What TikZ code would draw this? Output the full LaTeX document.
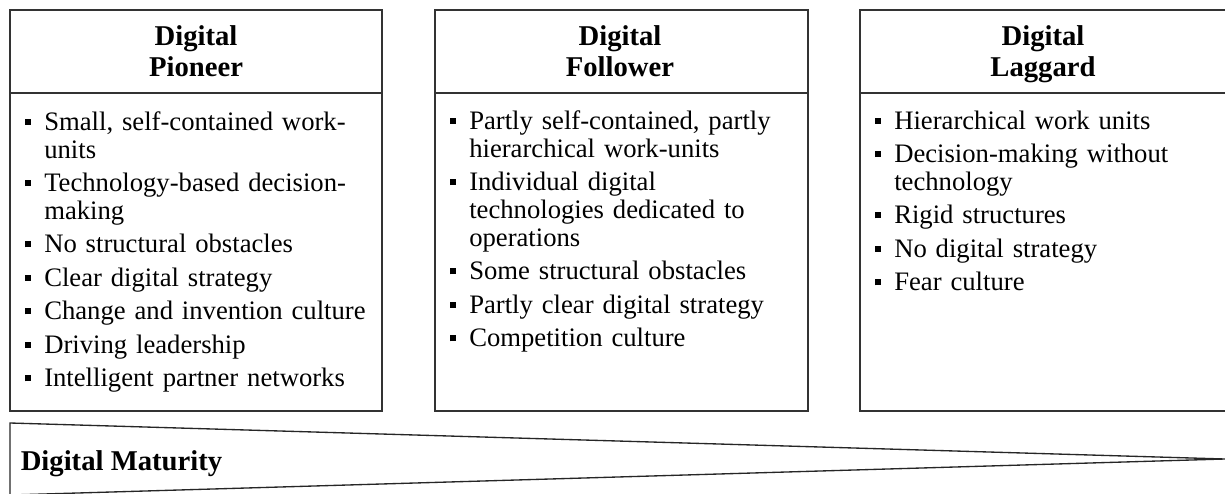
\documentclass[tikz,border=0pt]{standalone}
\usepackage{fontspec}
\setmainfont{Liberation Serif}
\newcommand\bulletsq{\raisebox{4.1pt}{\rule{4.5pt}{4.5pt}}}
\newcommand\bfirst[1]{\noindent\hangindent=25.5pt\hangafter=1\hbox to 25.5pt{\hskip 11.25pt\bulletsq\hfil}#1\par}
\newcommand\bitem[1]{\vskip 4.1pt\bfirst{#1}}
\tikzset{
  frame/.style={draw=black!80, line width=1pt, fill=white, inner sep=0pt, outer sep=0pt, anchor=north west},
  titletext/.style={font=\fontsize{21.5pt}{23.25pt}\selectfont\bfseries, align=center, text width=250pt, anchor=base, inner sep=0pt},
  bodytext/.style={font=\fontsize{20pt}{21pt}\selectfont, align=left, text width=279pt, anchor=base west, inner sep=0pt, execute at begin node={\parskip=0pt\parindent=0pt}},
  wedge/.style={draw=black!85, line width=1pt}
}
\begin{document}
\begin{tikzpicture}[x=0.75pt, y=-0.75pt]
\useasboundingbox (0,0) rectangle (1225,493);
\fill[white] (0,0) rectangle (1225,493);
% box 1
\node[frame, minimum width=279pt, minimum height=62.25pt] (p-head) at (10,10) {};
\node[frame, minimum width=279pt, minimum height=238.5pt] (p-body) at (10,93) {};
% box 2
\node[frame, minimum width=279.75pt, minimum height=62.25pt] (f-head) at (435,10) {};
\node[frame, minimum width=279.75pt, minimum height=238.5pt] (f-body) at (435,93) {};
% box 3
\node[frame, minimum width=275.25pt, minimum height=62.25pt] (l-head) at (860,10) {};
\node[frame, minimum width=275.25pt, minimum height=238.5pt] (l-body) at (860,93) {};
% titles
\node[titletext] (p-title) at (196,45) {Digital\\Pioneer};
\node[titletext] (f-title) at (620,45) {Digital\\Follower};
\node[titletext] (l-title) at (1043,45) {Digital\\Laggard};
% bodies
\node[bodytext] (p-list) at (10,130) {%
\bfirst{Small, self-contained work-\newline units}%
\bitem{Technology-based decision-\newline making}%
\bitem{No structural obstacles}%
\bitem{Clear digital strategy}%
\bitem{Change and invention culture}%
\bitem{Driving leadership}%
\bitem{Intelligent partner networks}};
\node[bodytext] (f-list) at (435,129) {%
\bfirst{Partly self-contained, partly\newline hierarchical work-units}%
\bitem{Individual digital\newline technologies dedicated to\newline operations}%
\bitem{Some structural obstacles}%
\bitem{Partly clear digital strategy}%
\bitem{Competition culture}};
\node[bodytext] (l-list) at (860,129) {%
\bfirst{Hierarchical work units}%
\bitem{Decision-making without\newline technology}%
\bitem{Rigid structures}%
\bitem{No digital strategy}%
\bitem{Fear culture}};
% maturity wedge
\coordinate (w-top) at (10,423);
\coordinate (w-tip) at (1225,459);
\coordinate (w-bot) at (10,495);
\draw[wedge] (w-bot) -- (w-top) -- (w-tip) -- (w-bot);
\node[font=\fontsize{21.5pt}{23.25pt}\selectfont\bfseries, anchor=base west, inner sep=0pt] (m-label) at (20.5,470) {Digital Maturity};
\end{tikzpicture}
\end{document}
